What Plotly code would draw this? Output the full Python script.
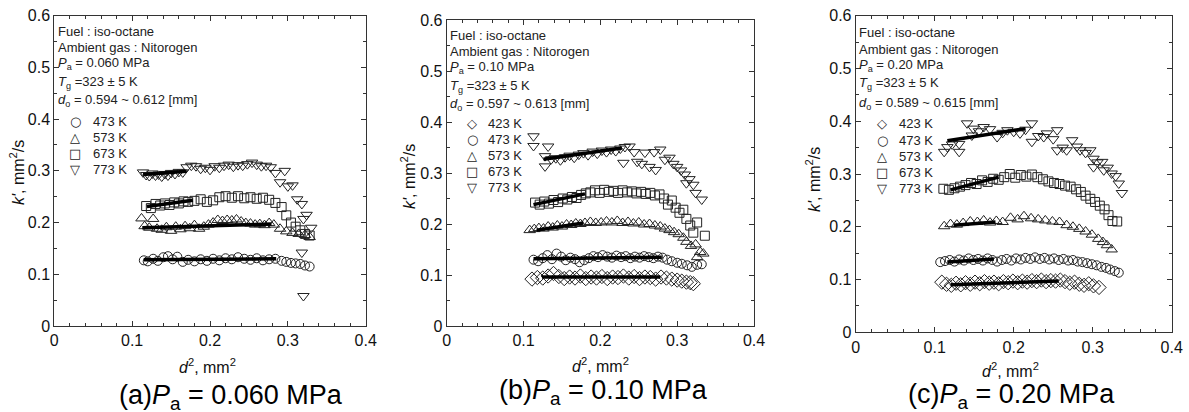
import plotly.graph_objects as go

W, H = 1189, 412
FONT = "Liberation Sans, Arial, sans-serif"

# ---------------- panel (a) Pa = 0.060 MPa ----------------
A_473_X = [0.115, 0.120, 0.127, 0.133, 0.140, 0.146, 0.152, 0.158, 0.165, 0.172, 0.180, 0.188, 0.196, 0.204, 0.212, 0.220,
           0.228, 0.236, 0.244, 0.252, 0.260, 0.268, 0.276, 0.284, 0.292, 0.298, 0.304, 0.310, 0.316, 0.322, 0.328]
A_473_Y = [0.127, 0.125, 0.130, 0.126, 0.133, 0.135, 0.129, 0.134, 0.124, 0.128, 0.125, 0.129, 0.126, 0.130, 0.127, 0.131,
           0.129, 0.133, 0.130, 0.128, 0.131, 0.127, 0.129, 0.130, 0.126, 0.124, 0.122, 0.121, 0.120, 0.117, 0.115]
A_573_X = [0.112, 0.116, 0.122, 0.127, 0.132, 0.138, 0.144, 0.150, 0.156, 0.162, 0.168, 0.174, 0.180, 0.186, 0.192, 0.198,
           0.204, 0.210, 0.216, 0.222, 0.228, 0.234, 0.240, 0.246, 0.252, 0.258, 0.264, 0.270, 0.276, 0.282, 0.290, 0.298,
           0.306, 0.314, 0.322, 0.328]
A_573_Y = [0.208, 0.193, 0.190, 0.207, 0.188, 0.186, 0.191, 0.184, 0.192, 0.187, 0.193, 0.189, 0.195, 0.188, 0.192, 0.196,
           0.200, 0.205, 0.203, 0.205, 0.204, 0.206, 0.202, 0.199, 0.198, 0.196, 0.197, 0.195, 0.199, 0.196, 0.188, 0.183,
           0.180, 0.178, 0.176, 0.172]
A_673_X = [0.118, 0.124, 0.130, 0.136, 0.142, 0.148, 0.154, 0.160, 0.166, 0.172, 0.180, 0.188, 0.196, 0.204, 0.212, 0.220,
           0.228, 0.236, 0.244, 0.252, 0.260, 0.268, 0.276, 0.284, 0.292, 0.298, 0.304, 0.310, 0.316, 0.322, 0.328]
A_673_Y = [0.232, 0.228, 0.236, 0.233, 0.237, 0.234, 0.239, 0.237, 0.241, 0.240, 0.242, 0.245, 0.240, 0.243, 0.249, 0.251,
           0.248, 0.251, 0.247, 0.249, 0.246, 0.248, 0.244, 0.238, 0.230, 0.214, 0.200, 0.192, 0.185, 0.178, 0.175]
A_773_X = [0.114, 0.118, 0.122, 0.126, 0.130, 0.134, 0.138, 0.142, 0.146, 0.150, 0.155, 0.160, 0.165, 0.170, 0.176, 0.182,
           0.188, 0.194, 0.200, 0.206, 0.212, 0.218, 0.224, 0.230, 0.236, 0.242, 0.248, 0.254, 0.260, 0.266, 0.272, 0.278,
           0.284, 0.290, 0.296, 0.300, 0.306, 0.312, 0.318, 0.320, 0.324, 0.330, 0.318, 0.320]
A_773_Y = [0.297, 0.292, 0.290, 0.295, 0.291, 0.293, 0.289, 0.294, 0.291, 0.296, 0.294, 0.298, 0.297, 0.307, 0.310, 0.309,
           0.304, 0.306, 0.302, 0.309, 0.306, 0.310, 0.312, 0.308, 0.311, 0.310, 0.313, 0.316, 0.312, 0.309, 0.310, 0.307,
           0.296, 0.278, 0.300, 0.270, 0.272, 0.245, 0.236, 0.207, 0.215, 0.190, 0.142, 0.058]
A_FIT_X = {"473 K": [0.115, 0.285], "573 K": [0.113, 0.279], "673 K": [0.119, 0.178], "773 K": [0.114, 0.170]}
A_FIT_Y = {"473 K": [0.128, 0.130], "573 K": [0.190, 0.197], "673 K": [0.231, 0.243], "773 K": [0.293, 0.299]}

# ---------------- panel (b) Pa = 0.10 MPa ----------------
B_423_X = [0.111, 0.118, 0.125, 0.132, 0.139, 0.146, 0.153, 0.160, 0.167, 0.174, 0.181, 0.188, 0.195, 0.202, 0.209, 0.216,
           0.223, 0.230, 0.237, 0.244, 0.251, 0.258, 0.265, 0.272, 0.279, 0.286, 0.293, 0.300, 0.306, 0.312, 0.317, 0.321]
B_423_Y = [0.092, 0.095, 0.094, 0.098, 0.103, 0.097, 0.093, 0.096, 0.094, 0.098, 0.093, 0.096, 0.094, 0.097, 0.093, 0.096,
           0.095, 0.098, 0.094, 0.097, 0.093, 0.096, 0.095, 0.092, 0.096, 0.094, 0.092, 0.090, 0.088, 0.086, 0.085, 0.083]
B_473_X = [0.113, 0.119, 0.125, 0.131, 0.137, 0.143, 0.149, 0.155, 0.161, 0.167, 0.173, 0.179, 0.185, 0.191, 0.197, 0.203,
           0.209, 0.215, 0.221, 0.227, 0.233, 0.239, 0.245, 0.251, 0.257, 0.263, 0.269, 0.275, 0.281, 0.287, 0.293, 0.300,
           0.306, 0.313, 0.319, 0.326, 0.332]
B_473_Y = [0.130, 0.127, 0.133, 0.139, 0.131, 0.142, 0.136, 0.129, 0.134, 0.131, 0.125, 0.129, 0.133, 0.137, 0.135, 0.139,
           0.136, 0.134, 0.138, 0.135, 0.137, 0.133, 0.136, 0.134, 0.137, 0.135, 0.133, 0.136, 0.134, 0.130, 0.127, 0.124,
           0.122, 0.119, 0.116, 0.120, 0.121]
B_573_X = [0.108, 0.114, 0.120, 0.126, 0.132, 0.138, 0.144, 0.150, 0.156, 0.162, 0.168, 0.174, 0.180, 0.187, 0.194, 0.201,
           0.208, 0.215, 0.222, 0.229, 0.236, 0.243, 0.250, 0.257, 0.264, 0.271, 0.278, 0.284, 0.290, 0.296, 0.302, 0.308,
           0.312, 0.318, 0.324, 0.330, 0.334, 0.326]
B_573_Y = [0.188, 0.190, 0.192, 0.191, 0.195, 0.193, 0.197, 0.195, 0.199, 0.198, 0.201, 0.200, 0.202, 0.204, 0.202, 0.203,
           0.205, 0.203, 0.206, 0.202, 0.204, 0.201, 0.203, 0.199, 0.200, 0.197, 0.195, 0.191, 0.188, 0.184, 0.180, 0.173,
           0.165, 0.157, 0.160, 0.145, 0.142, 0.135]
B_673_X = [0.115, 0.121, 0.127, 0.133, 0.139, 0.145, 0.151, 0.157, 0.163, 0.169, 0.175, 0.181, 0.187, 0.193, 0.199, 0.205,
           0.211, 0.217, 0.223, 0.229, 0.235, 0.241, 0.247, 0.253, 0.259, 0.265, 0.271, 0.277, 0.283, 0.288, 0.293, 0.298,
           0.303, 0.308, 0.312, 0.317, 0.321, 0.326, 0.336]
B_673_Y = [0.242, 0.238, 0.244, 0.240, 0.247, 0.243, 0.250, 0.248, 0.253, 0.251, 0.257, 0.260, 0.262, 0.266, 0.261, 0.267,
           0.263, 0.265, 0.261, 0.266, 0.262, 0.264, 0.260, 0.263, 0.259, 0.261, 0.256, 0.258, 0.250, 0.238, 0.246, 0.232,
           0.222, 0.228, 0.210, 0.197, 0.183, 0.203, 0.177]
B_773_X = [0.113, 0.113, 0.128, 0.132, 0.128, 0.136, 0.142, 0.148, 0.154, 0.160, 0.166, 0.172, 0.178, 0.184, 0.190, 0.196,
           0.202, 0.208, 0.214, 0.220, 0.226, 0.232, 0.238, 0.230, 0.244, 0.248, 0.254, 0.258, 0.264, 0.270, 0.272, 0.278,
           0.284, 0.290, 0.295, 0.300, 0.305, 0.310, 0.312, 0.316, 0.321, 0.324, 0.332]
B_773_Y = [0.372, 0.353, 0.333, 0.352, 0.313, 0.327, 0.329, 0.325, 0.331, 0.334, 0.330, 0.336, 0.339, 0.335, 0.342, 0.338,
           0.344, 0.341, 0.346, 0.343, 0.348, 0.351, 0.352, 0.320, 0.341, 0.322, 0.318, 0.340, 0.312, 0.341, 0.306, 0.346,
           0.326, 0.330, 0.318, 0.312, 0.305, 0.297, 0.280, 0.288, 0.277, 0.261, 0.248]
B_FIT_X = {"423 K": [0.124, 0.278], "473 K": [0.113, 0.280], "573 K": [0.117, 0.178], "673 K": [0.113, 0.180],
           "773 K": [0.126, 0.228]}
B_FIT_Y = {"423 K": [0.096, 0.096], "473 K": [0.132, 0.135], "573 K": [0.188, 0.202], "673 K": [0.238, 0.259],
           "773 K": [0.327, 0.349]}

# ---------------- panel (c) Pa = 0.20 MPa ----------------
C_423_X = [0.109, 0.115, 0.121, 0.127, 0.133, 0.139, 0.145, 0.151, 0.157, 0.163, 0.169, 0.175, 0.181, 0.187, 0.193, 0.199,
           0.205, 0.211, 0.217, 0.223, 0.229, 0.235, 0.241, 0.247, 0.253, 0.259, 0.265, 0.271, 0.277, 0.283, 0.289, 0.295,
           0.301, 0.308]
C_423_Y = [0.095, 0.091, 0.089, 0.093, 0.090, 0.094, 0.091, 0.095, 0.092, 0.096, 0.093, 0.095, 0.092, 0.096, 0.094, 0.097,
           0.094, 0.097, 0.095, 0.098, 0.096, 0.099, 0.096, 0.098, 0.097, 0.099, 0.096, 0.093, 0.095, 0.091, 0.089, 0.092,
           0.088, 0.085]
C_473_X = [0.107, 0.113, 0.119, 0.125, 0.131, 0.137, 0.143, 0.149, 0.155, 0.161, 0.167, 0.173, 0.179, 0.185, 0.191, 0.197,
           0.203, 0.209, 0.215, 0.221, 0.227, 0.233, 0.239, 0.245, 0.251, 0.257, 0.263, 0.269, 0.275, 0.281, 0.287, 0.293,
           0.299, 0.305, 0.311, 0.317, 0.322, 0.328, 0.333]
C_473_Y = [0.133, 0.135, 0.137, 0.134, 0.138, 0.136, 0.140, 0.137, 0.139, 0.136, 0.140, 0.137, 0.134, 0.137, 0.139, 0.136,
           0.140, 0.138, 0.141, 0.139, 0.142, 0.139, 0.141, 0.138, 0.140, 0.137, 0.139, 0.136, 0.137, 0.134, 0.133, 0.131,
           0.129, 0.127, 0.124, 0.122, 0.119, 0.116, 0.113]
C_573_X = [0.112, 0.120, 0.128, 0.136, 0.145, 0.154, 0.162, 0.170, 0.178, 0.186, 0.196, 0.205, 0.213, 0.222, 0.231, 0.240,
           0.249, 0.258, 0.267, 0.275, 0.283, 0.291, 0.299, 0.307, 0.313, 0.318, 0.324]
C_573_Y = [0.201, 0.205, 0.204, 0.207, 0.210, 0.209, 0.212, 0.208, 0.211, 0.209, 0.217, 0.214, 0.220, 0.216, 0.214, 0.212,
           0.210, 0.209, 0.203, 0.200, 0.196, 0.191, 0.185, 0.177, 0.171, 0.165, 0.157]
C_673_X = [0.111, 0.118, 0.125, 0.132, 0.139, 0.146, 0.153, 0.160, 0.167, 0.174, 0.181, 0.188, 0.195, 0.202, 0.209, 0.216,
           0.223, 0.230, 0.237, 0.244, 0.251, 0.258, 0.265, 0.272, 0.279, 0.285, 0.291, 0.297, 0.303, 0.309, 0.315, 0.320,
           0.325, 0.331]
C_673_Y = [0.272, 0.270, 0.273, 0.276, 0.279, 0.283, 0.281, 0.288, 0.285, 0.291, 0.289, 0.294, 0.300, 0.293, 0.298, 0.295,
           0.299, 0.294, 0.290, 0.286, 0.283, 0.281, 0.278, 0.276, 0.271, 0.266, 0.259, 0.253, 0.247, 0.240, 0.233, 0.222,
           0.211, 0.210]
C_773_X = [0.112, 0.116, 0.122, 0.131, 0.131, 0.141, 0.147, 0.149, 0.156, 0.162, 0.170, 0.179, 0.186, 0.192, 0.200, 0.208,
           0.215, 0.223, 0.223, 0.231, 0.238, 0.242, 0.250, 0.255, 0.255, 0.262, 0.267, 0.274, 0.280, 0.284, 0.291, 0.297,
           0.301, 0.301, 0.306, 0.312, 0.314, 0.319, 0.324, 0.329, 0.333, 0.337]
C_773_Y = [0.342, 0.351, 0.356, 0.342, 0.357, 0.396, 0.373, 0.386, 0.381, 0.389, 0.385, 0.370, 0.378, 0.383, 0.380, 0.377,
           0.384, 0.396, 0.361, 0.372, 0.370, 0.377, 0.366, 0.383, 0.345, 0.350, 0.345, 0.364, 0.352, 0.345, 0.340, 0.345,
           0.329, 0.313, 0.322, 0.323, 0.307, 0.312, 0.301, 0.296, 0.282, 0.264]
C_FIT_X = {"423 K": [0.120, 0.257], "473 K": [0.116, 0.175], "573 K": [0.124, 0.177], "673 K": [0.120, 0.181],
           "773 K": [0.116, 0.215]}
C_FIT_Y = {"423 K": [0.090, 0.097], "473 K": [0.133, 0.139], "573 K": [0.203, 0.209], "673 K": [0.270, 0.294],
           "773 K": [0.363, 0.386]}

# ---------------- labels ----------------
X_TICKS = [0, 0.1, 0.2, 0.3, 0.4]
Y_TICKS = [0, 0.1, 0.2, 0.3, 0.4, 0.5, 0.6]
INFO_A = ["Fuel : iso-octane", "Ambient gas : Nitorogen", "<i>P</i><sub>a</sub> = 0.060 MPa",
          "<i>T</i><sub>g</sub> =323 ± 5 K", "<i>d</i><sub>o</sub> = 0.594 ~ 0.612 [mm]"]
INFO_B = ["Fuel : iso-octane", "Ambient gas : Nitorogen", "<i>P</i><sub>a</sub> = 0.10 MPa",
          "<i>T</i><sub>g</sub> =323 ± 5 K", "<i>d</i><sub>o</sub> = 0.597 ~ 0.613 [mm]"]
INFO_C = ["Fuel : iso-octane", "Ambient gas : Nitorogen", "<i>P</i><sub>a</sub> = 0.20 MPa",
          "<i>T</i><sub>g</sub> =323 ± 5 K", "<i>d</i><sub>o</sub> = 0.589 ~ 0.615 [mm]"]
CAPTIONS = ["(a)<i>P</i><sub>a</sub> = 0.060 MPa", "(b)<i>P</i><sub>a</sub> = 0.10 MPa", "(c)<i>P</i><sub>a</sub> = 0.20 MPa"]
X_TITLE = "<i>d</i><sup>2</sup>, mm<sup>2</sup>"
Y_TITLE = "<i>k'</i>, mm<sup>2</sup>/s"

SYMBOL = {"423 K": "diamond-open", "473 K": "circle-open", "573 K": "triangle-up-open",
          "673 K": "square-open", "773 K": "triangle-down-open"}
GLYPH = {"423 K": "◇", "473 K": "○", "573 K": "△", "673 K": "□", "773 K": "▽"}
MSIZE = {"423 K": 11, "473 K": 9, "573 K": 10, "673 K": 9, "773 K": 10}

panels = [
    dict(series={"473 K": (A_473_X, A_473_Y), "573 K": (A_573_X, A_573_Y), "673 K": (A_673_X, A_673_Y),
                 "773 K": (A_773_X, A_773_Y)}, fx=A_FIT_X, fy=A_FIT_Y, info=INFO_A,
         box=(54.3, 365.7, 15.7, 326.0), info_x=56, info_y=[32, 48, 64, 82, 100],
         leg_sym_x=75, leg_txt_x=91, leg_y0=122, leg_dy=15.7,
         cap=(231, 397), xt=(207, 366), yt=(17, 173)),
    dict(series={"423 K": (B_423_X, B_423_Y), "473 K": (B_473_X, B_473_Y), "573 K": (B_573_X, B_573_Y),
                 "673 K": (B_673_X, B_673_Y), "773 K": (B_773_X, B_773_Y)}, fx=B_FIT_X, fy=B_FIT_Y, info=INFO_B,
         box=(446.7, 754.0, 20.0, 326.0), info_x=448, info_y=[36, 52, 67, 86, 104],
         leg_sym_x=472, leg_txt_x=486, leg_y0=124, leg_dy=15.8,
         cap=(603, 392), xt=(600, 365), yt=(408, 177)),
    dict(series={"423 K": (C_423_X, C_423_Y), "473 K": (C_473_X, C_473_Y), "573 K": (C_573_X, C_573_Y),
                 "673 K": (C_673_X, C_673_Y), "773 K": (C_773_X, C_773_Y)}, fx=C_FIT_X, fy=C_FIT_Y, info=INFO_C,
         box=(855.7, 1171.7, 15.7, 332.3), info_x=857, info_y=[33, 49, 65, 83, 103],
         leg_sym_x=882, leg_txt_x=897, leg_y0=124, leg_dy=16,
         cap=(1011, 396), xt=(1010, 370), yt=(813, 180)),
]


def px(x):
    return x / W


def py(y):
    return 1 - y / H


fig = go.Figure()
annotations = []
layout = dict(width=W, height=H, margin=dict(l=0, r=0, t=0, b=0), paper_bgcolor="white",
              plot_bgcolor="white", showlegend=False, font=dict(family=FONT, size=13, color="#111"))

for i, p in enumerate(panels):
    n = "" if i == 0 else str(i + 1)
    xa, ya = "x" + n, "y" + n
    x0, x1, y0, y1 = p["box"]
    axis_common = dict(showgrid=False, zeroline=False, showline=True, mirror="ticks", linecolor="#333",
                       linewidth=1, ticks="inside", ticklen=5, tickcolor="#333", tickwidth=1,
                       tickfont=dict(family=FONT, size=16, color="#111"), automargin=False)
    layout["xaxis" + n] = dict(axis_common, domain=[px(x0), px(x1)], range=[0, 0.4], tickvals=X_TICKS,
                               anchor=ya, minor=dict(dtick=0.02, ticks="inside", ticklen=3, tickcolor="#333"))
    layout["yaxis" + n] = dict(axis_common, domain=[py(y1), py(y0)], range=[0, 0.6], tickvals=Y_TICKS,
                               anchor=xa, minor=dict(dtick=0.05, ticks="inside", ticklen=3, tickcolor="#333"))
    for name, (xs, ys) in p["series"].items():
        fig.add_trace(go.Scatter(x=xs, y=ys, mode="markers", name=name, xaxis=xa, yaxis=ya,
                                 marker=dict(symbol=SYMBOL[name], size=MSIZE[name], color="#222",
                                             line=dict(width=1, color="#222")), cliponaxis=False))
    for name in p["series"]:
        fig.add_trace(go.Scatter(x=p["fx"][name], y=p["fy"][name], mode="lines", xaxis=xa, yaxis=ya,
                                 line=dict(color="black", width=3.5), hoverinfo="skip"))
    for txt, yy in zip(p["info"], p["info_y"]):
        annotations.append(dict(text=txt, x=px(p["info_x"]), y=py(yy), xref="paper", yref="paper",
                                xanchor="left", yanchor="middle", showarrow=False,
                                font=dict(family=FONT, size=13, color="#222")))
    for k, name in enumerate(p["series"]):
        yy = p["leg_y0"] + k * p["leg_dy"]
        annotations.append(dict(text=GLYPH[name], x=px(p["leg_sym_x"]), y=py(yy), xref="paper", yref="paper",
                                xanchor="center", yanchor="middle", showarrow=False,
                                font=dict(family="DejaVu Sans", size=13, color="#222")))
        annotations.append(dict(text=name, x=px(p["leg_txt_x"]), y=py(yy), xref="paper", yref="paper",
                                xanchor="left", yanchor="middle", showarrow=False,
                                font=dict(family=FONT, size=13, color="#222")))
    annotations.append(dict(text=X_TITLE, x=px(p["xt"][0]), y=py(p["xt"][1]), xref="paper", yref="paper",
                            xanchor="center", yanchor="middle", showarrow=False,
                            font=dict(family=FONT, size=16, color="#111")))
    annotations.append(dict(text=Y_TITLE, x=px(p["yt"][0]), y=py(p["yt"][1]), xref="paper", yref="paper",
                            xanchor="center", yanchor="middle", showarrow=False, textangle=-90,
                            font=dict(family=FONT, size=16, color="#111")))
    annotations.append(dict(text=CAPTIONS[i], x=px(p["cap"][0]), y=py(p["cap"][1]), xref="paper", yref="paper",
                            xanchor="center", yanchor="middle", showarrow=False,
                            font=dict(family=FONT, size=27, color="#000")))

layout["annotations"] = annotations
fig.update_layout(**layout)
fig.write_html("out.html", config={"displayModeBar": False},
               post_script="document.body.style.margin='0';document.body.style.overflow='hidden';")
